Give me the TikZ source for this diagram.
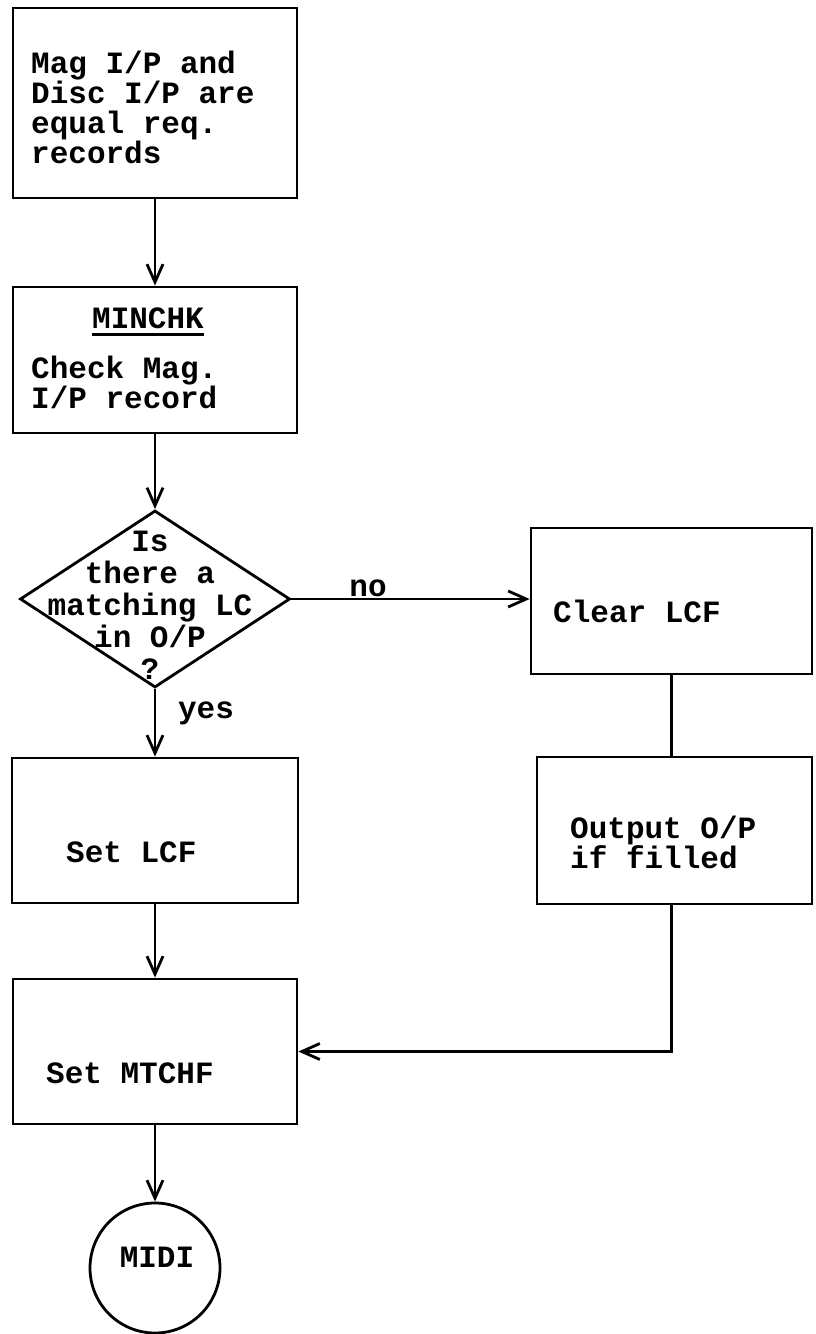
\documentclass[tikz,border=0pt]{standalone}
\usepackage{fontspec}
\setmonofont{Liberation Mono}
\usetikzlibrary{arrows.meta,shapes.geometric}

\newcommand{\flowfont}{\ttfamily\bfseries\fontsize{31}{30}\selectfont}
\newcommand{\ulbox}[1]{\vtop{\hbox{#1}\kern5pt\hrule height 2.5pt}}

\tikzset{
  flowbox/.style={draw, line width=2.8pt, rectangle, inner sep=0pt},
  flowtxt/.style={font=\flowfont, inner sep=0pt, align=left},
  flowarrow/.style={line width=2.8pt, -{Straight Barb[length=18pt,width=16pt]}},
  flowline/.style={line width=2.8pt}
}

\begin{document}
\begin{tikzpicture}[x=1pt, y=-1pt]
  \useasboundingbox (0,0) rectangle (815,1334);

  % Kaesten der linken Spalte
  \node[flowbox, minimum width=284pt, minimum height=190pt] (start) at (155,103) {};
  \node[flowtxt, anchor=west] (starttext) at (31,107) {Mag I/P and\\Disc I/P are\\equal req.\\records};

  \node[flowbox, minimum width=284pt, minimum height=146pt] (minchk) at (155,360) {};
  \node[flowtxt, anchor=base] (minchkname) at (148,328) {\ulbox{MINCHK}};
  \node[flowtxt, anchor=west] (minchktext) at (31,382) {Check Mag.\\I/P record};

  % Abfrage
  \node[draw, diamond, line width=2.8pt, minimum width=270pt, minimum height=177pt, inner sep=0pt] (test) at (155,599) {};
  \node[flowtxt, align=center, font={\ttfamily\bfseries\fontsize{31}{32}\selectfont}] (testtext) at (150,605) {Is\\there a\\matching LC\\in O/P\\?};

  \node[flowbox, minimum width=286pt, minimum height=145pt] (setlcf) at (155,830.5) {};
  \node[flowtxt, anchor=west] (setlcftext) at (66,852) {Set LCF};

  \node[flowbox, minimum width=284pt, minimum height=145pt] (mtchf) at (155,1051.5) {};
  \node[flowtxt, anchor=west] (mtchftext) at (46,1073) {Set MTCHF};

  \node[draw, circle, line width=2.8pt, minimum size=130pt, inner sep=0pt] (midi) at (155,1268) {};
  \node[flowtxt] (miditext) at (157,1257) {MIDI};

  % Kaesten der rechten Spalte
  \node[flowbox, minimum width=281pt, minimum height=146pt] (clear) at (671.5,601) {};
  \node[flowtxt, anchor=west] (cleartext) at (553,611) {Clear LCF};

  \node[flowbox, minimum width=275pt, minimum height=147pt] (output) at (674.5,830.5) {};
  \node[flowtxt, anchor=west] (outputtext) at (570,842) {Output O/P\\if filled};

  % Verbindungen
  \draw[flowarrow] (start) -- (minchk);
  \draw[flowarrow] (minchk) -- (test);
  \draw[flowarrow] (test) -- (setlcf);
  \draw[flowarrow] (test.east) -- (test.east -| clear.west);
  \draw[flowline] (clear.south) -- (clear.south |- output.north);
  \draw[flowarrow] (output.south -| clear.south) |- (mtchf);
  \draw[flowarrow] (setlcf) -- (mtchf);
  \draw[flowarrow] (mtchf) -- (midi);

  % Beschriftungen
  \node[flowtxt] (yes) at (206,713) {yes};
  \node[flowtxt] (no) at (368,588) {no};
\end{tikzpicture}
\end{document}
